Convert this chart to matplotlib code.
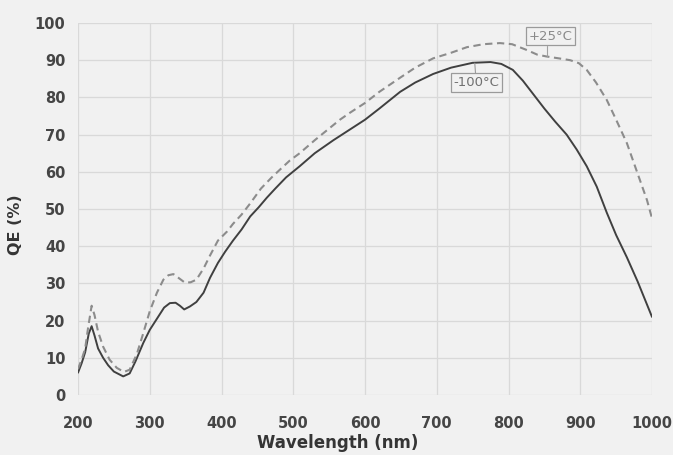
import matplotlib
matplotlib.use("Agg")
import matplotlib.pyplot as plt

# -100 C curve
wl_cold = [200, 205, 210, 215, 219, 223, 228, 235, 242, 250, 263, 272, 280, 291, 300,
           310, 320, 328, 336, 342, 348, 356, 365, 375, 384, 395, 405, 416, 428, 440,
           452, 463, 475, 490, 509, 530, 556, 580, 600, 620, 649, 670, 695, 720, 750,
           775, 790, 806, 820, 834, 850, 865, 881, 895, 909, 923, 937, 950, 965, 980, 1000]
qe_cold = [6, 8.5, 11.5, 16.5, 18.5, 16, 12.5, 10, 8, 6.3, 5, 5.8, 9, 14, 17.5,
           20.5, 23.5, 24.7, 24.8, 24, 23, 23.8, 25, 27.5, 31.5, 35.5, 38.5, 41.5, 44.5, 48,
           50.5, 53, 55.5, 58.5, 61.5, 65, 68.5, 71.5, 74, 77, 81.5, 84, 86.3, 88, 89.3,
           89.5, 89, 87.4, 84.5, 81, 77, 73.5, 70, 66, 61.5, 56, 49, 43, 37, 30.5, 21]

# +25 C curve
wl_warm = [200, 205, 210, 214, 219, 223, 228, 235, 244, 254, 264, 272, 282, 290, 300,
           310, 319, 326, 333, 340, 349, 357, 365, 375, 384, 395, 408, 416, 428, 440,
           455, 470, 481, 495, 509, 530, 565, 580, 600, 620, 649, 670, 695, 720, 742,
           765, 788, 805, 826, 840, 853, 870, 886, 898, 909, 922, 937, 950, 965, 980, 993, 1000]
qe_warm = [7, 9.5, 12.5, 18, 24, 21.5, 17, 13, 9.5, 7.3, 6.2, 6.8, 11, 16, 22.5,
           27.5, 31, 32.2, 32.5, 31.5, 30.2, 30.3, 31, 34, 37.5, 41.5, 44, 46, 48.5, 51.5,
           55.5, 58.5, 60.5, 63, 65, 68.5, 74, 76, 78.5, 81.5, 85.3, 88, 90.5, 92, 93.5,
           94.3, 94.6, 94.3, 92.7, 91.5, 91, 90.5, 90, 89.2, 87.4, 84, 79.3, 74, 67.7, 59.5, 52.4, 47.5]

x_ticks = [200, 300, 400, 500, 600, 700, 800, 900, 1000]
y_ticks = [0, 10, 20, 30, 40, 50, 60, 70, 80, 90, 100]
label_cold = "-100°C"
label_warm = "+25°C"

bg = "#f1f1f1"
fig = plt.figure(figsize=(6.73, 4.55), dpi=100, facecolor=bg)
ax = fig.add_axes([78/673, 1-395/455, (652-78)/673, (395-23)/455])
ax.set_facecolor(bg)

ax.plot(wl_cold, qe_cold, color="#404040", lw=1.4, solid_capstyle="round", zorder=3)
ax.plot(wl_warm, qe_warm, color="#8c8c8c", lw=1.5, linestyle=(0, (3.5, 2.2)), zorder=3)

ax.set_xlim(200, 1000)
ax.set_ylim(0, 100)
ax.set_xticks(x_ticks)
ax.set_yticks(y_ticks)
ax.grid(True, color="#d9d9d9", lw=0.9)
ax.set_axisbelow(True)
for s in ax.spines.values():
    s.set_visible(False)
ax.tick_params(length=0, labelsize=10.5, labelcolor="#454545")
ax.tick_params(axis="x", pad=15)
ax.tick_params(axis="y", pad=9)
for t in ax.get_xticklabels() + ax.get_yticklabels():
    t.set_fontweight("bold")

ax.set_xlabel("Wavelength (nm)", fontsize=12, fontweight="bold", color="#353535")
ax.xaxis.label.set_va("center")
ax.xaxis.set_label_coords((338 - 78) / 574, -(443 - 395) / 372)
ax.set_ylabel("QE (%)", fontsize=11.5, fontweight="bold", color="#353535")
ax.yaxis.label.set_va("center")
ax.yaxis.set_label_coords((15 - 78) / 574, (395 - 225) / 372)

box = dict(boxstyle="square,pad=0.2", fc=bg, ec="#9a9a9a", lw=0.9)
ax.annotate(label_cold, xy=(753, 89.2), xytext=(755, 84), fontsize=9.5, color="#707070",
            ha="center", va="center", bbox=box,
            arrowprops=dict(arrowstyle="-", color="#9a9a9a", lw=0.8, shrinkA=0, shrinkB=0))
ax.annotate(label_warm, xy=(853, 91), xytext=(859, 96.5), fontsize=9.5, color="#8a8a8a",
            ha="center", va="center", bbox=box,
            arrowprops=dict(arrowstyle="-", color="#a0a0a0", lw=0.8, shrinkA=0, shrinkB=0,
                            connectionstyle="angle,angleA=0,angleB=90,rad=0"))

fig.savefig("out.png", dpi=100, facecolor=bg)
